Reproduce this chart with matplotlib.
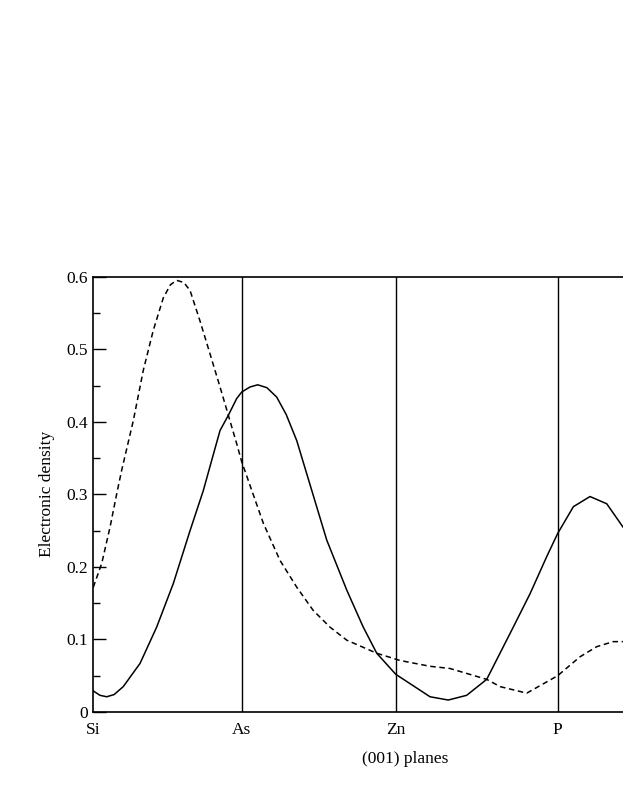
import matplotlib
matplotlib.use("Agg")
import matplotlib.pyplot as plt
from matplotlib.ticker import MultipleLocator

plt.rcParams['font.family'] = ['Liberation Serif', 'DejaVu Serif']

# Plane positions along (001) (Si at left axis)
plane_names = ["Si", "As", "Zn", "P"]
plane_pos = [0.0, 1.0, 2.038, 3.129]

# Solid curve
solid_x = [0.000, 0.045, 0.090, 0.140, 0.202, 0.315, 0.427, 0.539, 0.652, 0.741, 0.798, 0.854,
           0.910, 0.966, 1.000, 1.056, 1.108, 1.170, 1.236, 1.300, 1.371, 1.573, 1.708, 1.819,
           1.910, 2.038, 2.269, 2.392, 2.516, 2.651, 2.830, 2.943, 3.055, 3.129,
           3.235, 3.347, 3.460, 3.569]
solid_y = [0.029, 0.023, 0.021, 0.024, 0.035, 0.067, 0.117, 0.177, 0.250, 0.305, 0.347, 0.388,
           0.409, 0.432, 0.441, 0.448, 0.451, 0.447, 0.434, 0.410, 0.374, 0.237, 0.168, 0.117,
           0.081, 0.052, 0.021, 0.0165, 0.023, 0.045, 0.117, 0.163, 0.214, 0.246,
           0.283, 0.297, 0.287, 0.255]

# Dashed curve
dash_x = [0.000, 0.057, 0.113, 0.158, 0.191, 0.270, 0.337, 0.404, 0.472, 0.520, 0.562,
          0.610, 0.652, 0.719, 0.786, 0.854, 0.910, 0.966, 1.000, 1.146, 1.258, 1.371,
          1.482, 1.595, 1.708, 1.910, 2.067, 2.269, 2.403, 2.651, 2.741, 2.921,
          3.129, 3.279, 3.392, 3.504, 3.569]
dash_y = [0.172, 0.205, 0.255, 0.301, 0.333, 0.402, 0.471, 0.526, 0.571, 0.589, 0.595,
          0.592, 0.581, 0.539, 0.494, 0.448, 0.409, 0.370, 0.345, 0.260, 0.209, 0.172,
          0.140, 0.117, 0.099, 0.081, 0.071, 0.063, 0.060, 0.045, 0.035, 0.026,
          0.050, 0.076, 0.090, 0.097, 0.097]

y_ticks = [0, 0.1, 0.2, 0.3, 0.4, 0.5, 0.6]
y_ticklabels = ["0", "0.1", "0.2", "0.3", "0.4", "0.5", "0.6"]

W, H = 623, 806
fig = plt.figure(figsize=(W / 100, H / 100), dpi=100)
left = 93.3 / W
bottom = (H - 712) / H
top = (H - 276.7) / H
xmax = 4.2
width = xmax * 148.4 / W
ax = fig.add_axes([left, bottom, width, top - bottom])

for p in plane_pos[1:]:
    ax.axvline(p, color="black", lw=1.0, zorder=1)

ax.plot(solid_x, solid_y, color="black", lw=1.1, zorder=3)
ax.plot(dash_x, dash_y, color="black", lw=1.1, dashes=(3.6, 2.4), zorder=3)

ax.set_xlim(0, xmax)
ax.set_ylim(0, 0.6)

ax.set_yticks(y_ticks)
ax.set_yticklabels(y_ticklabels)
ax.yaxis.set_minor_locator(MultipleLocator(0.05))
ax.tick_params(axis="y", which="major", direction="in", length=9.5, width=1.0,
               labelsize=12.5, pad=4, right=False)
ax.tick_params(axis="y", which="minor", direction="in", length=5, width=1.0, right=False)

ax.set_xticks(plane_pos)
ax.set_xticklabels(plane_names)
ax.tick_params(axis="x", which="both", length=0, labelsize=12.5, pad=7, top=False)

for s in ax.spines.values():
    s.set_linewidth(1.2)

ax.set_xlabel("(001) planes", fontsize=12.5, labelpad=12)
ax.xaxis.set_label_coords((405.5 - 93.3) / (width * W), -0.09)
ax.set_ylabel("Electronic density", fontsize=12.5, labelpad=8)

fig.savefig("out.png", dpi=100)
